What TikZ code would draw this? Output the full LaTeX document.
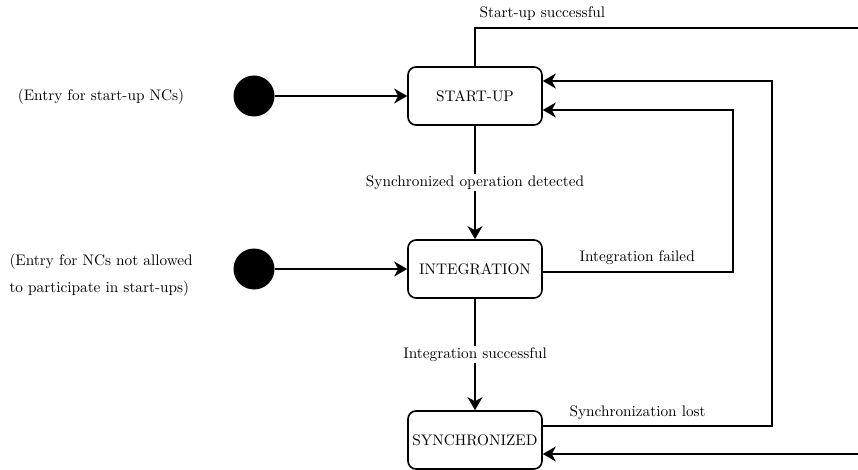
\documentclass[tikz,border=0pt]{standalone}
\usepackage{fontspec}
\setmainfont{lmroman10-regular.otf}
\usetikzlibrary{arrows.meta}
\begin{document}
\begin{tikzpicture}[x=1pt,y=-1pt,
  font=\fontsize{15.3}{19}\selectfont,
  state/.style={draw, line width=1.6pt, rounded corners=8pt,
    minimum width=134pt, minimum height=58pt, inner sep=0pt},
  entry/.style={circle, fill=black, minimum size=41pt, inner sep=0pt},
  flow/.style={line width=1.6pt, -{Stealth[length=13pt,width=15pt,inset=4pt]}},
  onwire/.style={fill=white, inner sep=2pt}]
\useasboundingbox (0,0) rectangle (858,470);
\clip (0,0) rectangle (858,470);

% states
\node[state] (su) at (475,96) {START-UP};
\node[state] (in) at (475,269) {INTEGRATION};
\node[state] (sy) at (475,440) {SYNCHRONIZED};

% entry points
\node[entry] (e1) at (254,96) {};
\node[entry] (e2) at (254,269) {};
\node (t1) at (101,97) {(Entry for start-up NCs)};
\node[align=left, anchor=west, font=\fontsize{15.3}{27}\selectfont] (t2) at (6,275.5)
  {(Entry for NCs not allowed\\to participate in start-ups)};
\draw[flow] (e1.east) -- (su.west);
\draw[flow] (e2.east) -- (in.west);

% main sequence
\draw[flow] (su.south) -- node[onwire] (lsd) {Synchronized operation detected} (in.north);
\draw[flow] (in.south) -- node[onwire] (lis) {Integration successful} (sy.north);

% start-up successful: leaves over the top, returns along the bottom
\coordinate (r1) at (875,28);
\coordinate (r2) at (875,454);
\draw[flow] (su.north) |- (r1) -- (r2) -- (r2 -| sy.east);
\node[anchor=west] (lss) at (476,14) {Start-up successful};

% synchronization lost
\coordinate (sl1) at (772,426);
\coordinate (sl2) at (772,81);
\draw[flow] (sl1 -| sy.east) -- (sl1) -- (sl2) -- (sl2 -| su.east);
\node[anchor=west] (lsl) at (566,413) {Synchronization lost};

% integration failed
\coordinate (if1) at (733,272);
\coordinate (if2) at (733,110);
\draw[flow] (if1 -| in.east) -- (if1) -- (if2) -- (if2 -| su.east);
\node[anchor=west] (lif) at (576,258) {Integration failed};
\end{tikzpicture}
\end{document}
